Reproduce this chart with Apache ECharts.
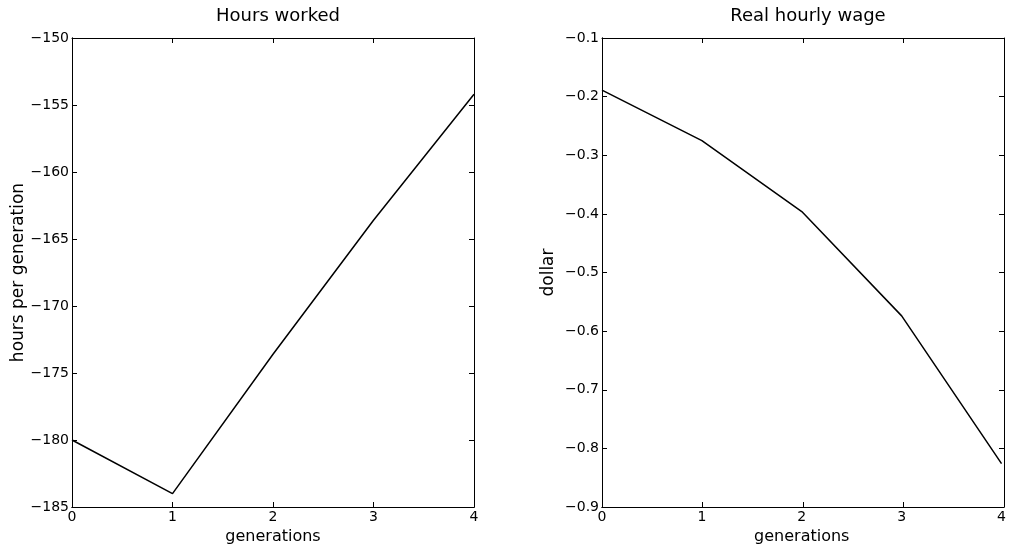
<!DOCTYPE html>
<html>
<head>
<meta charset="utf-8">
<script src="https://cdn.jsdelivr.net/npm/echarts@6/dist/echarts.min.js"></script>
<style>
  html, body { margin: 0; padding: 0; background: #fff; }
  #chart { width: 1009px; height: 554px; }
</style>
</head>
<body>
<div id="chart"></div>
<script>
const generations = [0, 1, 2, 3, 4]
const hoursWorked = [-180.0, -184.0, -173.6, -163.6, -154.2]
const realWage = [-0.189, -0.275, -0.396, -0.574, -0.826]

const FONT = 'DejaVu Sans'
const chart = echarts.init(document.getElementById('chart'))

const minusFmt = v => String(v).replace('-', '\u2212')

const axisLine = () => ({ show: true, onZero: false, lineStyle: { color: '#000', width: 1 } })
const ticks = (inside) => ({ show: true, inside, length: 5, lineStyle: { color: '#000', width: 1 } })

const W = 402
const H = 469

// grids 0/1: data + labels, no ticks
const xMain = (grid) => ({
  type: 'value', gridIndex: grid, min: 0, max: 4, interval: 1, position: 'bottom',
  name: 'generations', nameLocation: 'middle', nameGap: 17,
  nameTextStyle: { fontFamily: FONT, fontSize: 16, color: '#000' },
  axisLine: axisLine(), axisTick: { show: false },
  axisLabel: { margin: 3, fontFamily: FONT, fontSize: 14, color: '#000' },
  splitLine: { show: false }
})
const yMain = (grid, min, max, interval, name) => ({
  type: 'value', gridIndex: grid, min, max, interval, position: 'left',
  name, nameLocation: 'middle', nameGap: 45, nameRotate: 90,
  nameTextStyle: { fontFamily: FONT, fontSize: 17, color: '#000' },
  axisLine: axisLine(), axisTick: { show: false },
  axisLabel: { margin: 3, fontFamily: FONT, fontSize: 14, color: '#000', formatter: minusFmt },
  splitLine: { show: false }
})
// tick-only axes; offset ones are moved to the opposite edge so their
// outward ticks point into the box
const xTicks = (grid, offset, inside) => ({
  type: 'value', gridIndex: grid, min: 0, max: 4, interval: 1, position: 'top', offset,
  axisLine: axisLine(), axisTick: ticks(inside),
  axisLabel: { show: false }, splitLine: { show: false }
})
const yTicks = (grid, min, max, interval, offset, inside) => ({
  type: 'value', gridIndex: grid, min, max, interval, position: 'right', offset,
  axisLine: axisLine(), axisTick: ticks(inside),
  axisLabel: { show: false }, splitLine: { show: false }
})

const leftRect = { left: 72, top: 38, width: W, height: H }
const rightRect = { left: 602, top: 38, width: W, height: H }

const option = {
  animation: false,
  backgroundColor: '#fff',
  title: [
    { text: 'Hours worked', left: 273, top: 2, textAlign: 'center',
      textStyle: { fontFamily: FONT, fontSize: 18, fontWeight: 'normal', color: '#000' } },
    { text: 'Real hourly wage', left: 803, top: 2, textAlign: 'center',
      textStyle: { fontFamily: FONT, fontSize: 18, fontWeight: 'normal', color: '#000' } }
  ],
  grid: [leftRect, rightRect, { ...leftRect }, { ...rightRect }, { ...leftRect }, { ...rightRect }],
  xAxis: [
    xMain(0), xMain(1),
    xTicks(2, 0, true), xTicks(3, 0, true),
    xTicks(4, -H, false), xTicks(5, -H, false)
  ],
  yAxis: [
    yMain(0, -185, -150, 5, 'hours per generation'),
    yMain(1, -0.9, -0.1, 0.1, 'dollar'),
    yTicks(2, -185, -150, 5, 0, true), yTicks(3, -0.9, -0.1, 0.1, 0, true),
    yTicks(4, -185, -150, 5, -W, false), yTicks(5, -0.9, -0.1, 0.1, -W, false)
  ],
  series: [
    {
      type: 'line', xAxisIndex: 0, yAxisIndex: 0,
      data: generations.map((g, i) => [g, hoursWorked[i]]),
      symbol: 'none', lineStyle: { color: '#000', width: 1.5 }
    },
    {
      type: 'line', xAxisIndex: 1, yAxisIndex: 1,
      data: generations.map((g, i) => [g, realWage[i]]),
      symbol: 'none', lineStyle: { color: '#000', width: 1.5 }
    }
  ]
}

chart.setOption(option)
</script>
</body>
</html>
